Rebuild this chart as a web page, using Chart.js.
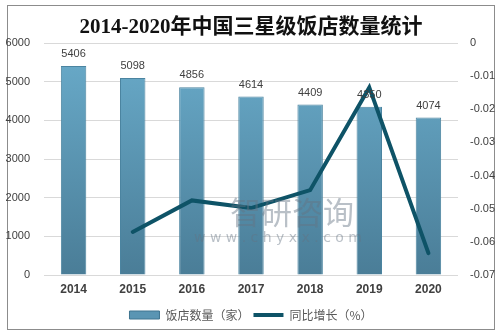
<!DOCTYPE html>
<html>
<head>
<meta charset="utf-8">
<script src="https://cdn.jsdelivr.net/npm/chart.js@4/dist/chart.umd.min.js"></script>
<style>
  html, body { margin: 0; padding: 0; background: #fff; }
  #wrap { width: 502px; height: 335px; position: relative; }
</style>
</head>
<body>
<div id="wrap"><canvas id="c"></canvas></div>
<script>
// ========================== DATA ==========================
const years = ["2014", "2015", "2016", "2017", "2018", "2019", "2020"];
const hotelCount = [5406, 5098, 4856, 4614, 4409, 4350, 4074];
const yoyGrowth = [null, -0.057, -0.0475, -0.0498, -0.0444, -0.0134, -0.0634];
const titleText = "2014-2020年中国三星级饭店数量统计";
const barLabel = "饭店数量（家）";
const lineLabel = "同比增长（%）";

// ========================== PLOT AREA ==========================
const AREA = { left: 44, right: 458, top: 43, bottom: 274 };

function barFill(ctx){
  const area = ctx.chart.chartArea;
  if(!area) return "#5b97b6";
  const g = ctx.chart.ctx.createLinearGradient(0, area.top, 0, area.bottom);
  g.addColorStop(0, "#6aaccb");
  g.addColorStop(1, "#4a7d97");
  return g;
}

// frame, title, watermark, value labels
const decor = {
  id: "decor",
  beforeDraw(chart){
    const c = chart.ctx;
    c.save();
    c.strokeStyle = "#8c8c8c";
    c.lineWidth = 1;
    c.strokeRect(7.5, 5.5, 487, 324);
    c.restore();
  },
  afterDatasetsDraw(chart){
    const c = chart.ctx;
    c.save();
    // value labels above bars (bar dataset is index 1)
    c.font = "11px 'Liberation Sans', Arial, sans-serif";
    c.fillStyle = "#404040";
    c.textAlign = "center";
    c.textBaseline = "middle";
    chart.getDatasetMeta(1).data.forEach((bar, i) => {
      c.fillText(String(hotelCount[i]), bar.x, bar.y - 12);
    });
    c.restore();
  },
  afterDraw(chart){
    const c = chart.ctx;
    c.save();
    c.font = "bold 21px 'Liberation Serif', 'Noto Sans CJK SC', serif";
    c.fillStyle = "#111";
    c.textAlign = "center";
    c.textBaseline = "middle";
    c.fillText(titleText, 251, 28);
    // watermark
    c.fillStyle = "rgba(100,115,130,0.45)";
    c.font = "31px 'Noto Sans CJK SC', sans-serif";
    c.fillText("智研咨询", 292, 212);
    c.font = "14px 'DejaVu Sans', sans-serif";
    c.fillText("w w w . c h y x x . c o m", 278, 238);
    c.restore();
  }
};

// ========================== CHART ==========================
new Chart(document.getElementById("c"), {
  data: {
    labels: years,
    datasets: [
      {
        type: "line",
        label: lineLabel,
        data: yoyGrowth,
        yAxisID: "y1",
        borderColor: "#0e5367",
        backgroundColor: "#0e5367",
        borderWidth: 4,
        pointRadius: 0,
        tension: 0,
        borderCapStyle: "round",
        order: 0
      },
      {
        type: "bar",
        label: barLabel,
        data: hotelCount,
        yAxisID: "y",
        backgroundColor: barFill,
        borderColor: "#4b84a0",
        borderWidth: 1,
        categoryPercentage: 0.43,
        barPercentage: 1,
        order: 1
      }
    ]
  },
  plugins: [decor],
  options: {
    responsive: true,
    maintainAspectRatio: false,
    animation: false,
    layout: { padding: { left: 0, right: 0, top: AREA.top, bottom: 4 } },
    plugins: {
      title: { display: false },
      tooltip: { enabled: false },
      legend: {
        position: "bottom",
        reverse: true,
        labels: {
          usePointStyle: true,
          pointStyleWidth: 30,
          boxHeight: 8,
          padding: 4,
          color: "#595959",
          font: { size: 12, family: "'Noto Sans CJK SC', sans-serif" },
          generateLabels(chart){
            const items = Chart.defaults.plugins.legend.labels.generateLabels(chart);
            items.forEach(it => {
              if(it.datasetIndex === 1){
                it.pointStyle = "rect";
                it.fillStyle = "#5a95b3";
                it.strokeStyle = "#3f7590";
                it.lineWidth = 1;
              } else {
                it.pointStyle = "line";
                it.lineWidth = 4;
                it.strokeStyle = "#0e5367";
              }
            });
            return items;
          }
        }
      }
    },
    scales: {
      x: {
        grid: { display: false, drawTicks: false },
        border: { display: false },
        ticks: {
          color: "#404040",
          padding: 9,
          autoSkip: false,
          font: { size: 12, weight: "bold", lineHeight: 1, family: "'Liberation Sans', Arial, sans-serif" }
        }
      },
      y: {
        position: "left",
        min: 0,
        max: 6000,
        ticks: {
          stepSize: 1000,
          color: "#404040",
          padding: 14,
          font: { size: 11, family: "'Liberation Sans', Arial, sans-serif" },
          callback: v => String(v)
        },
        grid: { color: "#d9d9d9", drawTicks: false },
        border: { display: false },
        afterFit(s){ s.width = AREA.left; }
      },
      y1: {
        position: "right",
        min: -0.07,
        max: 0,
        ticks: {
          stepSize: 0.01,
          color: "#404040",
          padding: 12,
          font: { size: 11, family: "'Liberation Sans', Arial, sans-serif" },
          callback: v => (Math.abs(v) < 1e-9 ? "0" : String(Math.round(v * 100) / 100))
        },
        grid: { display: false, drawTicks: false },
        border: { display: false },
        afterFit(s){ s.width = 502 - AREA.right; }
      }
    }
  }
});
</script>
</body>
</html>
